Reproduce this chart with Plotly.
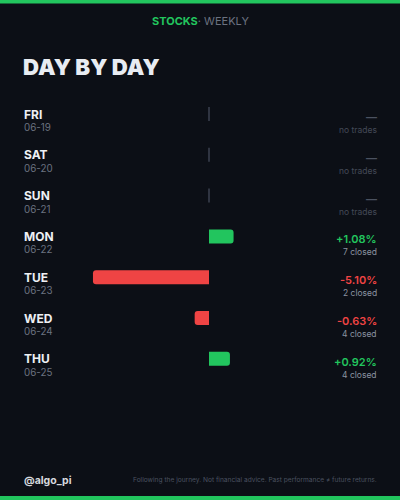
import plotly.graph_objects as go

days = ["FRI", "SAT", "SUN", "MON", "TUE", "WED", "THU"]
dates = ["06-19", "06-20", "06-21", "06-22", "06-23", "06-24", "06-25"]
returns = [None, None, None, 1.08, -5.10, -0.63, 0.92]
closed = [0, 0, 0, 7, 2, 4, 4]

GREEN = "#22c55e"
RED = "#ef4444"
BG = "#0c0f16"
FONT = "Inter"

rows = list(range(len(days)))
W, H = 400, 500
PX_PER_PCT = 22.75
ZERO_PX = 209
PITCH = 40.8
FIRST_PX = 114

xr = [-ZERO_PX / PX_PER_PCT, (W - ZERO_PX) / PX_PER_PCT]
yr = [(H - FIRST_PX) / PITCH, -FIRST_PX / PITCH]

traded = [i for i, r in enumerate(returns) if r is not None]
fig = go.Figure()
fig.add_trace(go.Bar(
    x=[returns[i] for i in traded],
    y=[rows[i] for i in traded],
    orientation="h",
    width=14 / PITCH,
    marker=dict(color=[GREEN if returns[i] >= 0 else RED for i in traded], line=dict(width=0)),
    hoverinfo="skip",
))

# no-trade markers
for i, r in enumerate(returns):
    if r is None:
        fig.add_shape(type="line", xref="x", yref="y", x0=0, x1=0,
                      y0=rows[i] - 7 / PITCH, y1=rows[i] + 7 / PITCH,
                      line=dict(color="#3b4250", width=1.5))

ann = []
for i in rows:
    ann.append(dict(x=22 / W, xref="paper", y=rows[i], yref="y", xanchor="left", yanchor="middle",
                    text=days[i], showarrow=False, yshift=0,
                    font=dict(family=FONT, size=12, color="#eef0f4", weight=700)))
    ann.append(dict(x=22 / W, xref="paper", y=rows[i], yref="y", xanchor="left", yanchor="middle",
                    text=dates[i], showarrow=False, yshift=-13.5,
                    font=dict(family=FONT, size=9.8, color="#6b7280")))
    r = returns[i]
    if r is None:
        main, mcol, sub, scol = "—", "#4b5260", "no trades", "#444a57"
    else:
        main = f"{r:+.2f}%"
        mcol = GREEN if r >= 0 else RED
        sub, scol = f"{closed[i]} closed", "#8b93a1"
    ann.append(dict(x=379 / W, xref="paper", y=rows[i], yref="y", xanchor="right", yanchor="middle",
                    text=main, showarrow=False, yshift=-3,
                    font=dict(family=FONT, size=11, color=mcol, weight=600)))
    ann.append(dict(x=379 / W, xref="paper", y=rows[i], yref="y", xanchor="right", yanchor="middle",
                    text=sub, showarrow=False, yshift=-16,
                    font=dict(family=FONT, size=8.5, color=scol)))

ann.append(dict(x=0.5, xref="paper", y=1 - 21 / H, yref="paper", xanchor="center", yanchor="middle",
                text=f"<b><span style='color:{GREEN}'>STOCKS</span></b><span style='color:#6b7280'>· WEEKLY</span>",
                showarrow=False, font=dict(family=FONT, size=11)))
ann.append(dict(x=21 / W, xref="paper", y=1 - 66 / H, yref="paper", xanchor="left", yanchor="middle",
                text="DAY BY DAY", showarrow=False,
                font=dict(family=FONT, size=22.2, color="#e8ecf2", weight=900)))
ann.append(dict(x=22 / W, xref="paper", y=1 - 480 / H, yref="paper", xanchor="left", yanchor="middle",
                text="@algo_pi", showarrow=False,
                font=dict(family=FONT, size=10.5, color="#d6d9de", weight=700)))
ann.append(dict(x=379 / W, xref="paper", y=1 - 480 / H, yref="paper", xanchor="right", yanchor="middle",
                text="Following the journey. Not financial advice. Past performance ≠ future returns.",
                showarrow=False, font=dict(family=FONT, size=6.6, color="#4b5260")))

shapes = [
    dict(type="rect", xref="paper", yref="paper", x0=0, x1=1, y0=1 - 3.5 / H, y1=1,
         fillcolor=GREEN, line=dict(width=0), layer="above"),
    dict(type="rect", xref="paper", yref="paper", x0=0, x1=1, y0=0, y1=4 / H,
         fillcolor=GREEN, line=dict(width=0), layer="above"),
]
for s in shapes:
    fig.add_shape(**s)

fig.update_layout(
    width=W, height=H, margin=dict(l=0, r=0, t=0, b=0),
    paper_bgcolor=BG, plot_bgcolor=BG,
    showlegend=False, barcornerradius=3,
    xaxis=dict(range=xr, visible=False, fixedrange=True),
    yaxis=dict(range=yr, visible=False, fixedrange=True),
    annotations=ann,
    font=dict(family=FONT),
)

fig.write_html("out.html", config={"displayModeBar": False},
               post_script="document.body.style.margin='0';document.body.style.background='#0c0f16';")
